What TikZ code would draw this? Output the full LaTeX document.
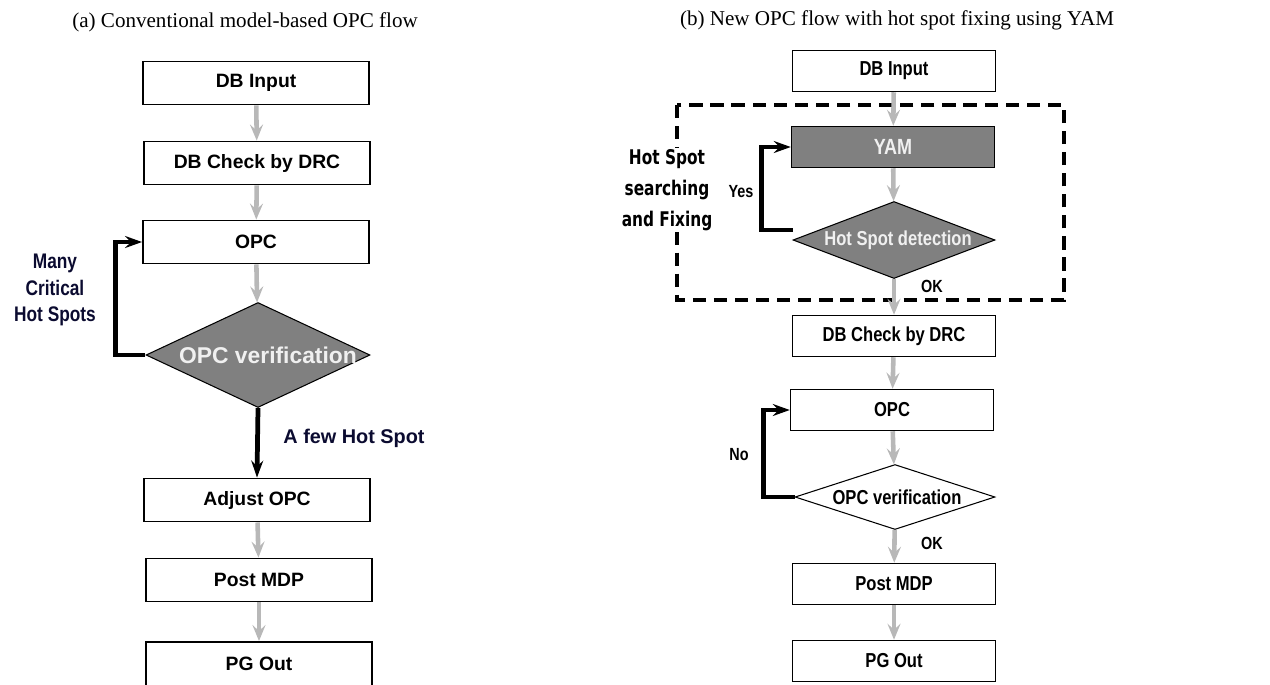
\documentclass[tikz,border=0pt]{standalone}
\usepackage{fontspec}
\setmainfont{Liberation Serif}
\setsansfont{Liberation Sans}
\newfontfamily\opnarrow[FakeStretch=0.82]{Liberation Sans}
\newfontfamily\ophsfont[FakeStretch=0.76]{DejaVu Sans}
\usetikzlibrary{arrows.meta,positioning,calc,shapes.geometric}
\usepackage{xcolor}
\definecolor{opgray}{HTML}{808080}
\definecolor{opgrayarrow}{HTML}{B8B8B8}
\definecolor{opnavy}{HTML}{0B0B30}
\tikzset{
  optitle/.style={font=\rmfamily\fontsize{12}{14}\selectfont},
  opboxl/.style={draw, line width=1.1pt, minimum width=4.52cm, minimum height=0.86cm, inner sep=0pt, font=\sffamily\bfseries\fontsize{11}{13}\selectfont},
  opboxr/.style={draw, line width=0.85pt, minimum width=4.06cm, minimum height=0.82cm, inner sep=0pt, font=\opnarrow\bfseries\fontsize{11.5}{13}\selectfont},
  opdia/.style={diamond, draw, line width=0.6pt, inner sep=0pt},
  oparrow/.style={-{Stealth[length=3.2mm, width=2.6mm, inset=1.2mm]}, line width=2.6pt, draw=opgrayarrow},
  oploop/.style={-{Stealth[length=3.4mm, width=2.4mm, inset=1.2mm]}, line width=2.7pt},
  oplabel/.style={font=\opnarrow\bfseries\fontsize{10}{12}\selectfont},
  opframe/.style={line width=2.3pt, dash pattern=on 7.5pt off 4.5pt},
}

\begin{document}
\begin{tikzpicture}[x=0.02cm, y=-0.02cm]
  \useasboundingbox (0,0) rectangle (1270,684);

  \node[optitle] (TA) at (245,22) {(a) Conventional model-based OPC flow};
  \node[optitle] (TB) at (897,20) {(b) New OPC flow with hot spot fixing using YAM};

  % (a) conventional flow
  \node[opboxl] (LIn) at (256,83) {DB Input};
  \node[opboxl] (LChk) at (257,163) {DB Check by DRC};
  \node[opboxl] (LOpc) at (256,242) {OPC};
  \node[opdia, fill=opgray, minimum width=4.48cm, minimum height=2.1cm, text=white!94!black,
        font=\sffamily\bfseries\fontsize{13}{15}\selectfont] (LVer) at (258,355)
        {\makebox[0pt]{\hspace*{0.4cm}OPC verification}};
  \node[opboxl] (LAdj) at (257,500) {Adjust OPC};
  \node[opboxl] (LPost) at (259,580) {Post MDP};
  \node[opboxl, minimum height=0.88cm] (LOut) at (259,664) {PG Out};

  \draw[oparrow] (LIn) -- (LChk);
  \draw[oparrow] (LChk) -- (LOpc);
  \draw[oparrow] (LOpc) -- (LVer);
  \draw[oparrow] (LAdj) -- (LPost);
  \draw[oparrow] (LPost) -- (LOut);
  \draw[oploop] (LVer.west) -- ++(-30,0) |- (LOpc.west);
  \draw[oploop] (LVer.south) -- (LAdj.north);

  \node[align=center, text=opnavy, font=\opnarrow\bfseries\fontsize{12}{15.3}\selectfont] (LMany) at (55,290) {Many\\Critical\\Hot Spots};
  \node[text=opnavy, font=\sffamily\bfseries\fontsize{11.3}{13}\selectfont] (LFew) at (354,438) {A few Hot Spot};

  % (b) new flow with YAM
  \node[opboxr] (RIn) at (894,71) {DB Input};
  \draw[opframe] (677,105) rectangle (1064,300);
  \node[opboxr, fill=opgray, text=white!94!black, font=\opnarrow\bfseries\fontsize{12.5}{14}\selectfont] (RYam) at (893,147) {YAM};
  \node[opdia, fill=opgray, minimum width=4.04cm, minimum height=1.54cm, text=white!94!black,
        font=\opnarrow\bfseries\fontsize{11.5}{13}\selectfont] (RHsd) at (894,240)
        {\makebox[0pt]{\hspace*{0.16cm}Hot Spot detection}};
  \node[opboxr] (RChk) at (894,336) {DB Check by DRC};
  \node[opboxr] (ROpc) at (892,410) {OPC};
  \node[opdia, fill=white, minimum width=4.0cm, minimum height=1.3cm,
        font=\opnarrow\bfseries\fontsize{11.5}{13}\selectfont] (RVer) at (895,497)
        {\makebox[0pt]{\hspace*{0.08cm}OPC verification}};
  \node[opboxr] (RPost) at (894,584) {Post MDP};
  \node[opboxr] (ROut) at (894,661) {PG Out};

  \draw[oparrow] (RIn) -- (RYam);
  \draw[oparrow] (RYam) -- (RHsd);
  \draw[oparrow] (RHsd) -- (RChk);
  \draw[oparrow] (RChk) -- (ROpc);
  \draw[oparrow] (ROpc) -- (RVer);
  \draw[oparrow] (RVer) -- (RPost);
  \draw[oparrow] (RPost) -- (ROut);
  \draw[oploop, line width=2.5pt] ([yshift=0.2cm]RHsd.west) -- ++(-31,0) |- (RYam.west);
  \draw[oploop, line width=2.5pt] (RVer.west) -- ++(-31,0) |- (ROpc.west);

  \node[fill=white, align=center, inner sep=1pt, font=\ophsfont\bfseries\fontsize{11.5}{17.6}\selectfont] (RHot) at (667,190) {Hot Spot\\searching\\and Fixing};
  \node[oplabel] (RYes) at (741,192) {Yes};
  \node[oplabel] (ROk1) at (932,286) {OK};
  \node[oplabel] (RNo) at (739,455) {No};
  \node[oplabel] (ROk2) at (932,543) {OK};
\end{tikzpicture}
\end{document}
